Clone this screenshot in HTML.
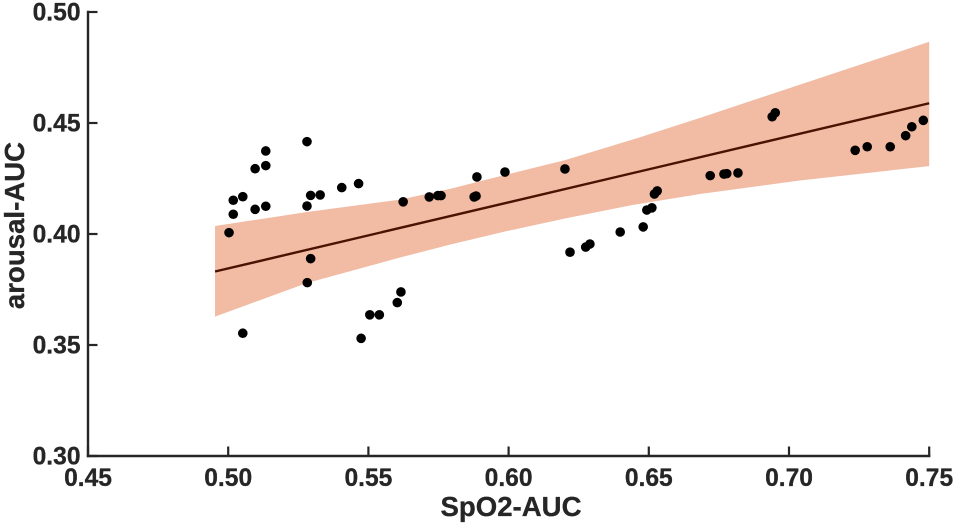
<!DOCTYPE html>
<html>
<head>
<meta charset="utf-8">
<title>arousal-AUC vs SpO2-AUC</title>
<style>
html,body{margin:0;padding:0;background:#fff;}
svg{display:block;}
text{font-family:"Liberation Sans",Arial,sans-serif;font-weight:bold;fill:#262626;stroke:#262626;stroke-width:0.3;}
</style>
</head>
<body>
<svg id="chart" width="955" height="526" viewBox="0 0 955 526" xmlns="http://www.w3.org/2000/svg"></svg>
<script>
const xTicks = [0.45, 0.50, 0.55, 0.60, 0.65, 0.70, 0.75];
const yTicks = [0.30, 0.35, 0.40, 0.45, 0.50];
const xTickLabels = ["0.45", "0.50", "0.55", "0.60", "0.65", "0.70", "0.75"];
const yTickLabels = ["0.30", "0.35", "0.40", "0.45", "0.50"];
const xTitle = "SpO2-AUC";
const yTitle = "arousal-AUC";

const pointX = [0.5003,0.5018,0.5018,0.5052,0.5096,0.5134,0.5096,0.5134,0.5134,0.5281,0.5281,0.5294,0.5328,0.5405,0.5465,0.5624,0.5717,0.5748,0.5759,0.5877,0.5884,0.5887,0.5987,0.6201,0.5294,0.5282,0.5052,0.5474,0.5505,0.5539,0.5603,0.5616,0.6219,0.6275,0.6290,0.6398,0.6480,0.6493,0.6511,0.6520,0.6530,0.6719,0.6768,0.6778,0.6818,0.6940,0.6951,0.7236,0.7279,0.7361,0.7416,0.7438,0.7479];
const pointY = [0.4006,0.4089,0.4152,0.4168,0.4111,0.4125,0.4294,0.4308,0.4374,0.4416,0.4126,0.4174,0.4176,0.4209,0.4227,0.4145,0.4167,0.4173,0.4173,0.4167,0.4171,0.4257,0.4279,0.4293,0.3889,0.3781,0.3553,0.3530,0.3636,0.3636,0.3691,0.3739,0.3918,0.3941,0.3955,0.4009,0.4032,0.4108,0.4118,0.4180,0.4194,0.4263,0.4270,0.4272,0.4275,0.4528,0.4546,0.4377,0.4393,0.4393,0.4443,0.4483,0.4512];

const fitX = [0.4953, 0.75];
const fitY = [0.3831, 0.4589];

const bandX = [0.4953, 0.5281, 0.5613, 0.5791, 0.5987, 0.6201, 0.6444, 0.6683, 0.7039, 0.75];
const bandUpper = [0.4036, 0.4099, 0.4155, 0.4203, 0.4266, 0.4333, 0.4426, 0.4523, 0.4673, 0.4866];
const bandLower = [0.3628, 0.3779, 0.3894, 0.3952, 0.4011, 0.4070, 0.4131, 0.4180, 0.4241, 0.4306];

function sx(v) { return 88 + (v - 0.45) * 2804; }
function sy(v) { return 456 - (v - 0.30) * 2220; }

const NS = "http://www.w3.org/2000/svg";
const svg = document.getElementById("chart");
function mk(tag, attrs) {
  const el = document.createElementNS(NS, tag);
  for (const k in attrs) el.setAttribute(k, attrs[k]);
  svg.appendChild(el);
  return el;
}

// confidence band
const upperPts = bandX.map((x, i) => sx(x).toFixed(2) + "," + sy(bandUpper[i]).toFixed(2));
const lowerPts = bandX.map((x, i) => sx(x).toFixed(2) + "," + sy(bandLower[i]).toFixed(2)).reverse();
const band = mk("polygon", { points: upperPts.concat(lowerPts).join(" "), fill: "#f2bba4" });



// fit line
const fit = mk("line", { x1: sx(fitX[0]), y1: sy(fitY[0]), x2: sx(fitX[1]), y2: sy(fitY[1]), stroke: "#4a1200", "stroke-width": 2.4 });



// points
pointX.forEach((x, i) => {
  const c = mk("circle", { cx: sx(x), cy: sy(pointY[i]), r: 4.8, fill: "#000" });
  
  
});

// axes
const xAxis = mk("line", { x1: 86.8, y1: sy(0.30), x2: sx(0.75) + 1.2, y2: sy(0.30), stroke: "#262626", "stroke-width": 2.4 });


const yAxis = mk("line", { x1: 88, y1: sy(0.30) + 1.2, x2: 88, y2: sy(0.50) - 1.2, stroke: "#262626", "stroke-width": 2.4 });



// x ticks and labels
xTicks.forEach((t, i) => {
  const tick = mk("line", { x1: sx(t), y1: sy(0.30), x2: sx(t), y2: sy(0.30) - 9.5, stroke: "#262626", "stroke-width": 2.2 });
  
  
  const label = mk("text", { x: sx(t), y: 486, "text-anchor": "middle", "font-size": 24.6 });
  
  
  label.textContent = xTickLabels[i];
});

// y ticks and labels
yTicks.forEach((t, i) => {
  const tick = mk("line", { x1: 88, y1: sy(t), x2: 97.5, y2: sy(t), stroke: "#262626", "stroke-width": 2.2 });
  
  
  const label = mk("text", { x: 80.5, y: sy(t) + 8.6, "text-anchor": "end", "font-size": 24.6 });
  
  
  label.textContent = yTickLabels[i];
});

// axis titles
const xt = mk("text", { x: 511, y: 516, "text-anchor": "middle", "font-size": 27.6 });


xt.textContent = xTitle;
const yt = mk("text", { x: 0, y: 0, transform: "translate(24,225.5) rotate(-90)", "text-anchor": "middle", "font-size": 27.6 });


yt.textContent = yTitle;
</script>
</body>
</html>
